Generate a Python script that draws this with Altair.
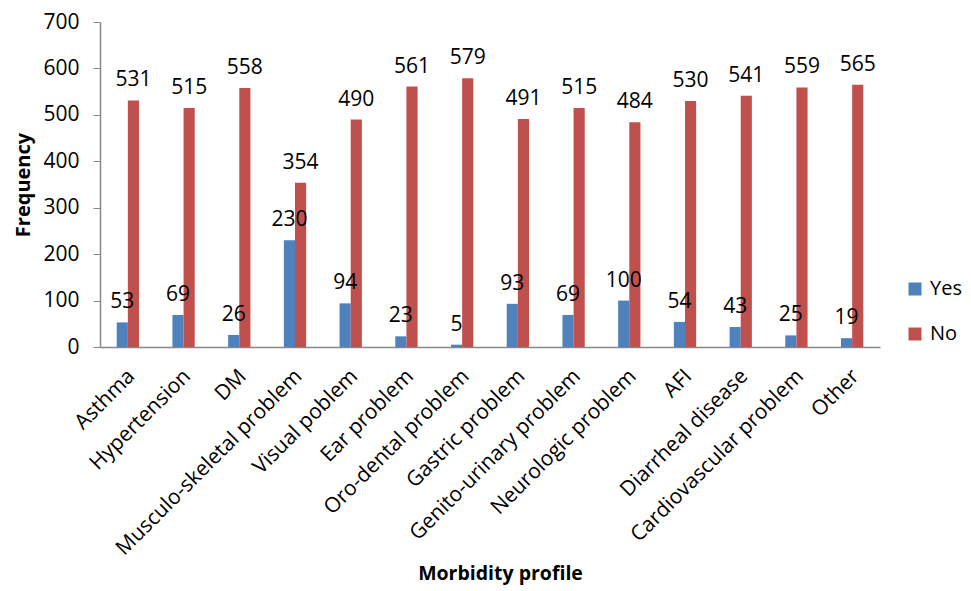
import altair as alt
import pandas as pd

categories = ["Asthma", "Hypertension", "DM", "Musculo-skeletal problem", "Visual poblem",
              "Ear problem", "Oro-dental problem", "Gastric problem", "Genito-urinary problem",
              "Neurologic problem", "AFI", "Diarrheal disease", "Cardiovascular problem", "Other"]
yes_values = [53, 69, 26, 230, 94, 23, 5, 93, 69, 100, 54, 43, 25, 19]
no_values = [531, 515, 558, 354, 490, 561, 579, 491, 515, 484, 530, 541, 559, 565]
series = ["Yes", "No"]
colors = ["#4F81BD", "#C0504D"]
y_ticks = [0, 100, 200, 300, 400, 500, 600, 700]

rows = []
for c, y, n in zip(categories, yes_values, no_values):
    rows.append({"category": c, "series": "Yes", "value": y})
    rows.append({"category": c, "series": "No", "value": n})
df = pd.DataFrame(rows)

FONT = "Open Sans"
FS = 21

x = alt.X("category:N", sort=categories, title="Morbidity profile",
          scale=alt.Scale(paddingInner=0.6, paddingOuter=0.3),
          axis=alt.Axis(labelAngle=-45, labelFontSize=FS, labelFont=FONT, labelColor="#000000",
                        titleFontSize=19.5, titleFont=FONT, titleFontWeight="bold", titleColor="#000000",
                        titleX=400, titleY=226, titleBaseline="middle",
                        ticks=False, domainColor="#888888", domainWidth=1.5,
                        labelPadding=18, labelOffset=-4, labelLimit=400))
xo = alt.XOffset("series:N", sort=series)

base = alt.Chart(df)

bars = base.mark_bar().encode(
    x=x,
    xOffset=xo,
    y=alt.Y("value:Q", title="Frequency",
            scale=alt.Scale(domain=[0, 700], nice=False),
            axis=alt.Axis(values=y_ticks, grid=False, labelFontSize=FS, labelFont=FONT,
                          labelColor="#000000", titleFontSize=20, titleFont=FONT,
                          titleFontWeight="bold", titleColor="#000000",
                          titleX=-77, titleY=162.5, titleBaseline="middle",
                          domainColor="#888888", domainWidth=1.5, tickColor="#888888",
                          tickSize=7, labelPadding=14)),
    color=alt.Color("series:N", sort=series,
                    scale=alt.Scale(domain=series, range=colors),
                    legend=alt.Legend(title=None, orient="none", legendX=805, legendY=257,
                                      symbolType="square", symbolSize=169, labelFontSize=20,
                                      labelFont=FONT, labelColor="#000000", rowPadding=25,
                                      labelOffset=5, symbolStrokeWidth=0)),
)

labels = base.mark_text(baseline="bottom", dy=-10, fontSize=FS, font=FONT, color="#000000").encode(
    x=alt.X("category:N", sort=categories),
    xOffset=xo,
    y="value:Q",
    text="value:Q",
)

chart = (bars + labels).properties(
    width=780, height=325,
    autosize=alt.AutoSizeParams(type="none"),
    padding={"left": 92, "top": 14, "right": 83, "bottom": 238},
).configure_view(stroke=None)

chart.save("out.html", embed_options={"renderer": "svg", "actions": False})
